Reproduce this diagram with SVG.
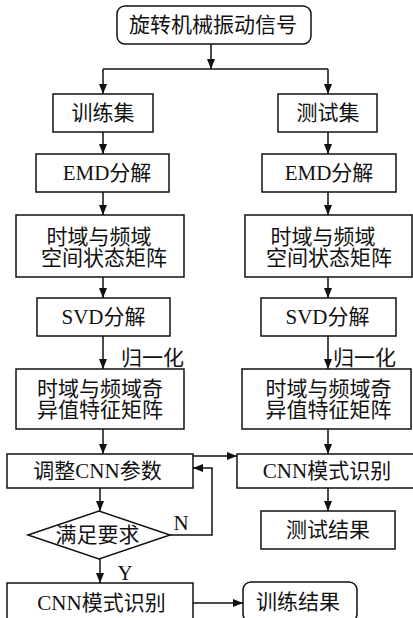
<svg xmlns="http://www.w3.org/2000/svg" width="413" height="618" viewBox="0 0 413 618">
<style>
.b{fill:#fff;stroke:#111;stroke-width:1.5}
.t{font-family:"Liberation Serif","Noto Sans CJK SC",serif;font-size:21px;fill:#111;text-anchor:middle}
.l{fill:none;stroke:#111;stroke-width:1.5}
</style>
<defs>
<marker id="a" viewBox="0 0 10 8" refX="10" refY="4" markerWidth="10" markerHeight="8" markerUnits="userSpaceOnUse" orient="auto">
<path d="M0,0L10,4L0,8Z" fill="#111"/>
</marker>
</defs>
<g id="connectors">
<path class="l" d="M211,44V69" marker-end="url(#a)"/>
<path class="l" d="M103,69H328"/>
<path class="l" d="M103,69V94" marker-end="url(#a)"/>
<path class="l" d="M328,69V94" marker-end="url(#a)"/>
<path class="l" d="M103,132V154" marker-end="url(#a)"/>
<path class="l" d="M103,192V215" marker-end="url(#a)"/>
<path class="l" d="M103,277V298" marker-end="url(#a)"/>
<path class="l" d="M103,336V369" marker-end="url(#a)"/>
<path class="l" d="M103,429V454" marker-end="url(#a)"/>
<path class="l" d="M328,132V154" marker-end="url(#a)"/>
<path class="l" d="M328,192V215" marker-end="url(#a)"/>
<path class="l" d="M328,277V298" marker-end="url(#a)"/>
<path class="l" d="M328,336V369" marker-end="url(#a)"/>
<path class="l" d="M328,429V454" marker-end="url(#a)"/>
<path class="l" d="M328,488V511" marker-end="url(#a)"/>
<path class="l" d="M193,456H237" marker-end="url(#a)"/>
<path class="l" d="M170,535H212V468H193" marker-end="url(#a)"/>
<path class="l" d="M100,488V511" marker-end="url(#a)"/>
<path class="l" d="M100,559V583" marker-end="url(#a)"/>
<path class="l" d="M193,603H243" marker-end="url(#a)"/>
<text class="t" x="121" y="365" style="text-anchor:start">归一化</text>
<text class="t" x="333" y="365" style="text-anchor:start">归一化</text>
<text class="t" x="181" y="530">N</text>
<text class="t" x="125" y="580">Y</text>
</g>
<g id="n_signal"><rect class="b" x="117" y="6" width="194" height="38" rx="8"/><text class="t" x="213" y="32">旋转机械振动信号</text></g>
<g id="n_train"><rect class="b" x="53" y="94" width="100" height="38"/><text class="t" x="103" y="120">训练集</text></g>
<g id="n_test"><rect class="b" x="278" y="94" width="99" height="38"/><text class="t" x="328" y="120">测试集</text></g>
<g id="n_emd_l"><rect class="b" x="36" y="154" width="133" height="38"/><text class="t" x="107" y="180">EMD分解</text></g>
<g id="n_emd_r"><rect class="b" x="262" y="154" width="134" height="38"/><text class="t" x="329" y="180">EMD分解</text></g>
<g id="n_space_l"><rect class="b" x="16" y="215" width="168" height="62"/><text class="t" x="99" y="244">时域与频域</text><text class="t" x="104" y="265">空间状态矩阵</text></g>
<g id="n_space_r"><rect class="b" x="245" y="215" width="167" height="62"/><text class="t" x="323" y="244">时域与频域</text><text class="t" x="329" y="265">空间状态矩阵</text></g>
<g id="n_svd_l"><rect class="b" x="37" y="298" width="133" height="38"/><text class="t" x="103.5" y="324">SVD分解</text></g>
<g id="n_svd_r"><rect class="b" x="261" y="298" width="135" height="38"/><text class="t" x="327.5" y="324">SVD分解</text></g>
<g id="n_sing_l"><rect class="b" x="16" y="369" width="168" height="60"/><text class="t" x="100" y="396">时域与频域奇</text><text class="t" x="100" y="417">异值特征矩阵</text></g>
<g id="n_sing_r"><rect class="b" x="242" y="369" width="169" height="60"/><text class="t" x="328.5" y="396">时域与频域奇</text><text class="t" x="328.5" y="417">异值特征矩阵</text></g>
<g id="n_adjust"><rect class="b" x="7" y="454" width="186" height="34"/><text class="t" x="97.5" y="478">调整CNN参数</text></g>
<g id="n_cnn_r"><rect class="b" x="237" y="454" width="180" height="34"/><text class="t" x="327" y="478">CNN模式识别</text></g>
<g id="n_result_test"><rect class="b" x="261" y="511" width="134" height="38"/><text class="t" x="328" y="537">测试结果</text></g>
<g id="n_decide"><path class="b" d="M28,535L99,511L170,535L99,559Z"/><text class="t" x="97.5" y="542">满足要求</text></g>
<g id="n_cnn_l"><rect class="b" x="7" y="583" width="186" height="40"/><text class="t" x="101.5" y="610">CNN模式识别</text></g>
<g id="n_result_train"><rect class="b" x="243" y="582" width="114" height="40" rx="8"/><text class="t" x="298" y="609">训练结果</text></g>
</svg>
